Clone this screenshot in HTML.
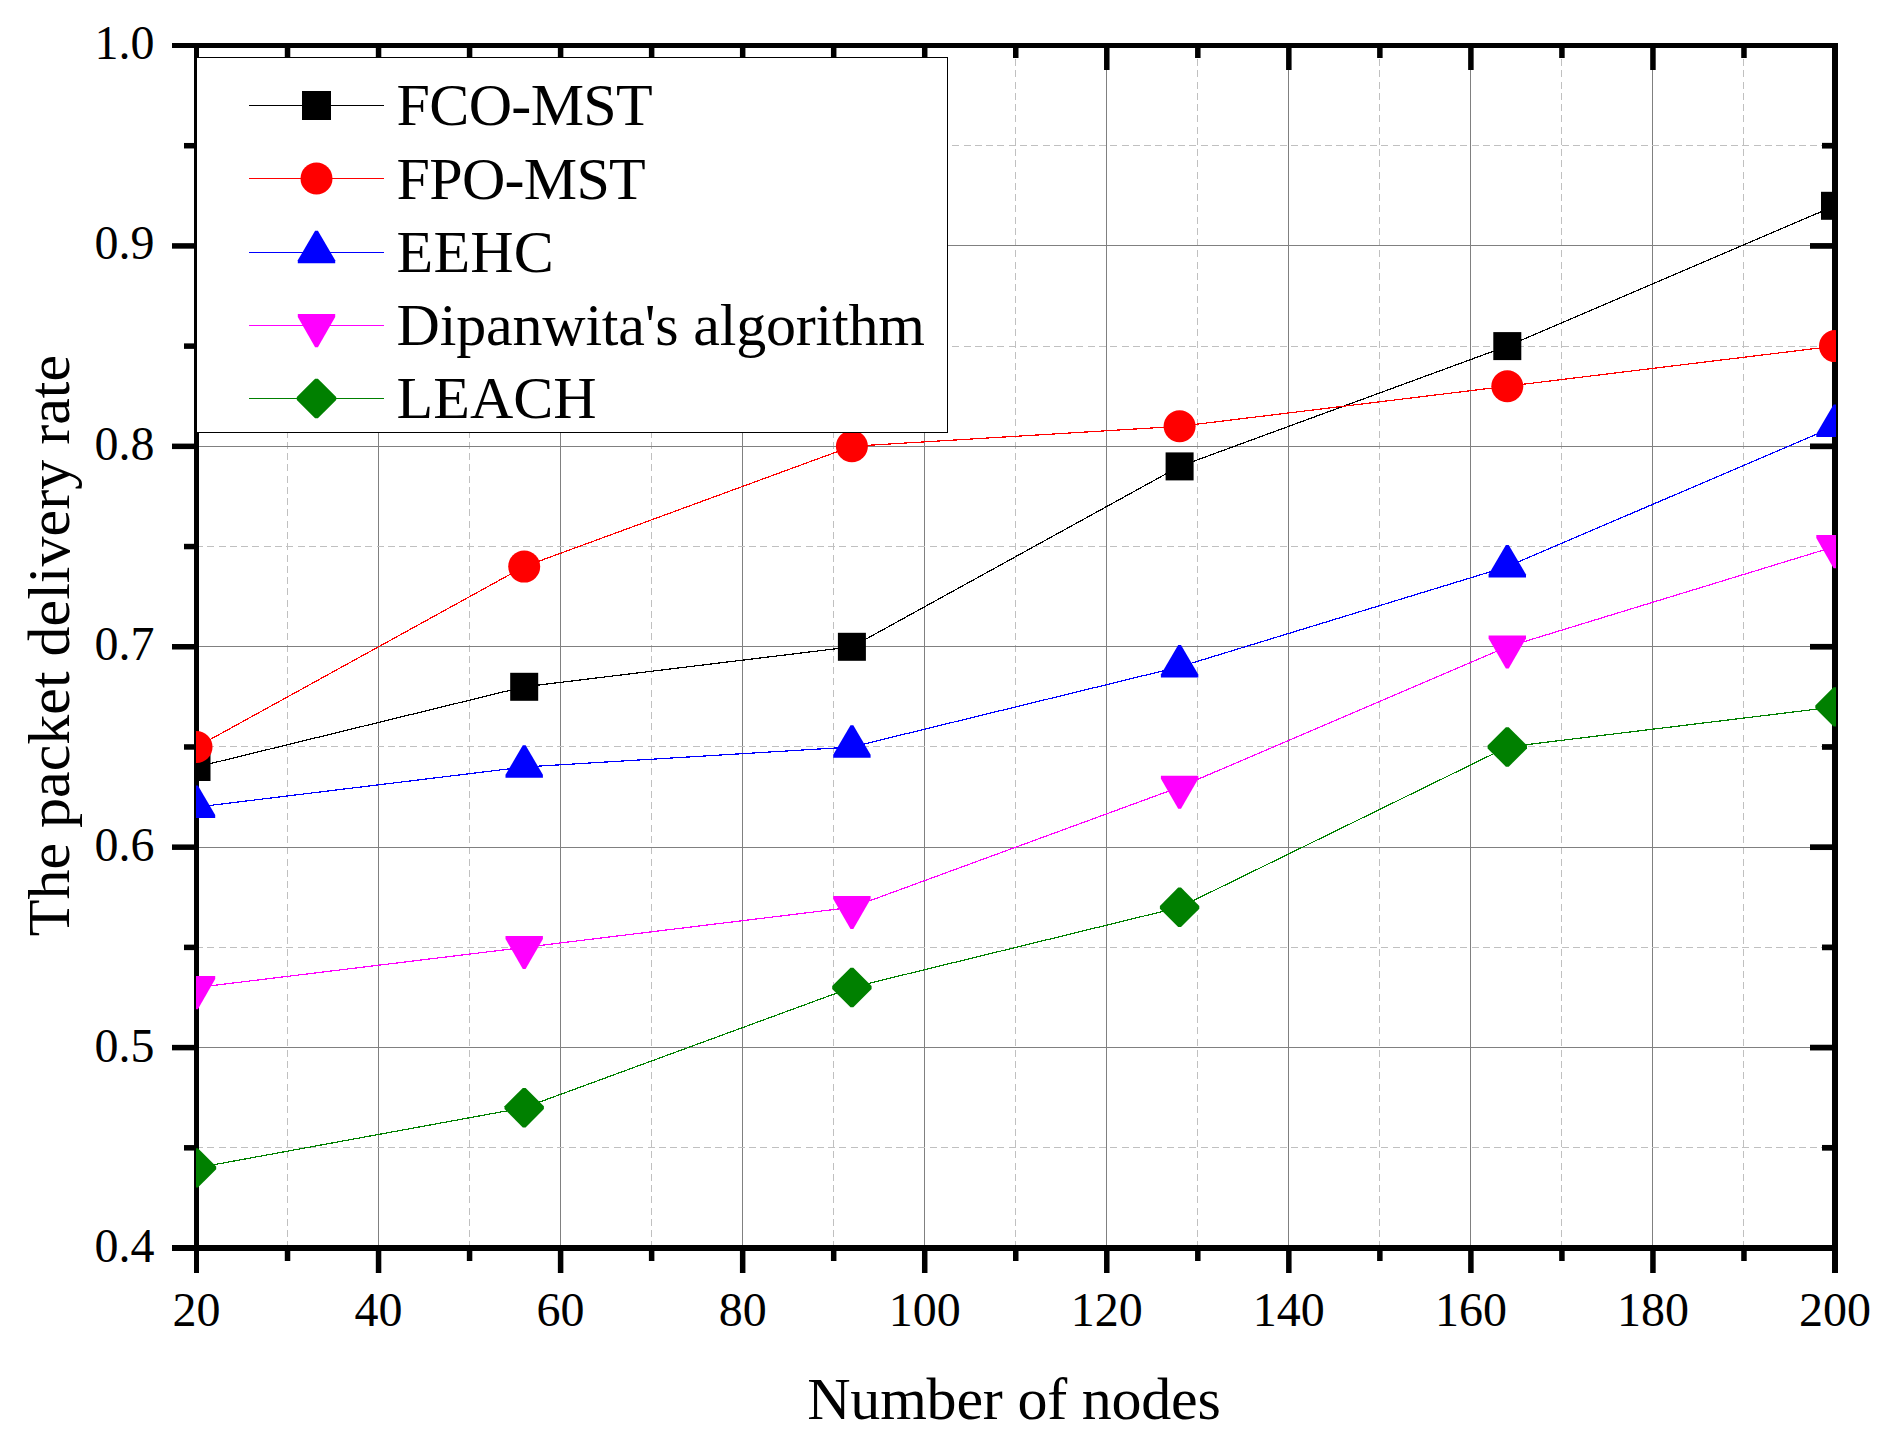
<!DOCTYPE html>
<html lang="en"><head><meta charset="utf-8"><title>The packet delivery rate vs Number of nodes</title>
<style>html,body{margin:0;padding:0;background:#fff}body{width:1892px;height:1446px;overflow:hidden}svg{display:block}text{font-family:"Liberation Serif","Times New Roman",serif;fill:#000}</style></head><body>
<svg width="1892" height="1446" viewBox="0 0 1892 1446">
<rect width="1892" height="1446" fill="#fff"/>
<defs><clipPath id="c"><rect x="196" y="45" width="1640" height="1204"/></clipPath></defs>
<g shape-rendering="crispEdges" fill="none" stroke-width="1">
<line x1="196.5" y1="45.5" x2="196.5" y2="1248.5" stroke="#808080"/>
<line x1="287.5" y1="47.8" x2="287.5" y2="1248.5" stroke="#c0c0c0" stroke-dasharray="7 4.26"/>
<line x1="378.5" y1="45.5" x2="378.5" y2="1248.5" stroke="#808080"/>
<line x1="469.5" y1="47.8" x2="469.5" y2="1248.5" stroke="#c0c0c0" stroke-dasharray="7 4.26"/>
<line x1="560.5" y1="45.5" x2="560.5" y2="1248.5" stroke="#808080"/>
<line x1="651.5" y1="47.8" x2="651.5" y2="1248.5" stroke="#c0c0c0" stroke-dasharray="7 4.26"/>
<line x1="742.5" y1="45.5" x2="742.5" y2="1248.5" stroke="#808080"/>
<line x1="833.5" y1="47.8" x2="833.5" y2="1248.5" stroke="#c0c0c0" stroke-dasharray="7 4.26"/>
<line x1="924.5" y1="45.5" x2="924.5" y2="1248.5" stroke="#808080"/>
<line x1="1015.5" y1="47.8" x2="1015.5" y2="1248.5" stroke="#c0c0c0" stroke-dasharray="7 4.26"/>
<line x1="1106.5" y1="45.5" x2="1106.5" y2="1248.5" stroke="#808080"/>
<line x1="1197.5" y1="47.8" x2="1197.5" y2="1248.5" stroke="#c0c0c0" stroke-dasharray="7 4.26"/>
<line x1="1288.5" y1="45.5" x2="1288.5" y2="1248.5" stroke="#808080"/>
<line x1="1379.5" y1="47.8" x2="1379.5" y2="1248.5" stroke="#c0c0c0" stroke-dasharray="7 4.26"/>
<line x1="1470.5" y1="45.5" x2="1470.5" y2="1248.5" stroke="#808080"/>
<line x1="1561.5" y1="47.8" x2="1561.5" y2="1248.5" stroke="#c0c0c0" stroke-dasharray="7 4.26"/>
<line x1="1652.5" y1="45.5" x2="1652.5" y2="1248.5" stroke="#808080"/>
<line x1="1743.5" y1="47.8" x2="1743.5" y2="1248.5" stroke="#c0c0c0" stroke-dasharray="7 4.26"/>
<line x1="1835.5" y1="45.5" x2="1835.5" y2="1248.5" stroke="#808080"/>
<line x1="196.5" y1="1248.5" x2="1835.0" y2="1248.5" stroke="#808080"/>
<line x1="196" y1="1147.5" x2="1835.0" y2="1147.5" stroke="#c0c0c0" stroke-dasharray="7 4.288"/>
<line x1="196.5" y1="1047.5" x2="1835.0" y2="1047.5" stroke="#808080"/>
<line x1="196" y1="947.5" x2="1835.0" y2="947.5" stroke="#c0c0c0" stroke-dasharray="7 4.288"/>
<line x1="196.5" y1="847.5" x2="1835.0" y2="847.5" stroke="#808080"/>
<line x1="196" y1="746.5" x2="1835.0" y2="746.5" stroke="#c0c0c0" stroke-dasharray="7 4.288"/>
<line x1="196.5" y1="646.5" x2="1835.0" y2="646.5" stroke="#808080"/>
<line x1="196" y1="546.5" x2="1835.0" y2="546.5" stroke="#c0c0c0" stroke-dasharray="7 4.288"/>
<line x1="196.5" y1="446.5" x2="1835.0" y2="446.5" stroke="#808080"/>
<line x1="196" y1="346.5" x2="1835.0" y2="346.5" stroke="#c0c0c0" stroke-dasharray="7 4.288"/>
<line x1="196.5" y1="245.5" x2="1835.0" y2="245.5" stroke="#808080"/>
<line x1="196" y1="145.5" x2="1835.0" y2="145.5" stroke="#c0c0c0" stroke-dasharray="7 4.288"/>
<line x1="196.5" y1="45.5" x2="1835.0" y2="45.5" stroke="#808080"/>
</g>
<g fill="#000" shape-rendering="crispEdges">
<rect x="194" y="43" width="5" height="1230"/>
<rect x="172" y="43" width="1666" height="5"/>
<rect x="1832" y="43" width="6" height="1230"/>
<rect x="172" y="1245" width="1666" height="6"/>
</g><g fill="#000">
<rect x="284.78" y="1251" width="5.5" height="10"/>
<rect x="284.78" y="48" width="5.5" height="10"/>
<rect x="375.81" y="1251" width="5.5" height="22"/>
<rect x="375.81" y="48" width="5.5" height="22"/>
<rect x="466.83" y="1251" width="5.5" height="10"/>
<rect x="466.83" y="48" width="5.5" height="10"/>
<rect x="557.86" y="1251" width="5.5" height="22"/>
<rect x="557.86" y="48" width="5.5" height="22"/>
<rect x="648.89" y="1251" width="5.5" height="10"/>
<rect x="648.89" y="48" width="5.5" height="10"/>
<rect x="739.92" y="1251" width="5.5" height="22"/>
<rect x="739.92" y="48" width="5.5" height="22"/>
<rect x="830.94" y="1251" width="5.5" height="10"/>
<rect x="830.94" y="48" width="5.5" height="10"/>
<rect x="921.97" y="1251" width="5.5" height="22"/>
<rect x="921.97" y="48" width="5.5" height="22"/>
<rect x="1013.00" y="1251" width="5.5" height="10"/>
<rect x="1013.00" y="48" width="5.5" height="10"/>
<rect x="1104.03" y="1251" width="5.5" height="22"/>
<rect x="1104.03" y="48" width="5.5" height="22"/>
<rect x="1195.06" y="1251" width="5.5" height="10"/>
<rect x="1195.06" y="48" width="5.5" height="10"/>
<rect x="1286.08" y="1251" width="5.5" height="22"/>
<rect x="1286.08" y="48" width="5.5" height="22"/>
<rect x="1377.11" y="1251" width="5.5" height="10"/>
<rect x="1377.11" y="48" width="5.5" height="10"/>
<rect x="1468.14" y="1251" width="5.5" height="22"/>
<rect x="1468.14" y="48" width="5.5" height="22"/>
<rect x="1559.17" y="1251" width="5.5" height="10"/>
<rect x="1559.17" y="48" width="5.5" height="10"/>
<rect x="1650.19" y="1251" width="5.5" height="22"/>
<rect x="1650.19" y="48" width="5.5" height="22"/>
<rect x="1741.22" y="1251" width="5.5" height="10"/>
<rect x="1741.22" y="48" width="5.5" height="10"/>
<rect x="184" y="1145.06" width="10" height="5.5"/>
<rect x="1822" y="1144.96" width="10" height="5.7"/>
<rect x="172" y="1044.85" width="22" height="5.5"/>
<rect x="1810" y="1044.75" width="22" height="5.7"/>
<rect x="184" y="944.64" width="10" height="5.5"/>
<rect x="1822" y="944.54" width="10" height="5.7"/>
<rect x="172" y="844.43" width="22" height="5.5"/>
<rect x="1810" y="844.33" width="22" height="5.7"/>
<rect x="184" y="744.22" width="10" height="5.5"/>
<rect x="1822" y="744.12" width="10" height="5.7"/>
<rect x="172" y="644.01" width="22" height="5.5"/>
<rect x="1810" y="643.91" width="22" height="5.7"/>
<rect x="184" y="543.80" width="10" height="5.5"/>
<rect x="1825" y="543.70" width="7" height="5.7"/>
<rect x="172" y="443.59" width="22" height="5.5"/>
<rect x="1810" y="443.49" width="22" height="5.7"/>
<rect x="184" y="343.38" width="10" height="5.5"/>
<rect x="1822" y="343.28" width="10" height="5.7"/>
<rect x="172" y="243.17" width="22" height="5.5"/>
<rect x="1810" y="243.07" width="22" height="5.7"/>
<rect x="184" y="142.96" width="10" height="5.5"/>
<rect x="1822" y="142.86" width="10" height="5.7"/>
</g>
<g clip-path="url(#c)">
<polyline points="196.5,767.0 524.2,686.8 851.9,646.8 1179.6,466.4 1507.3,346.1 1835.0,205.8" fill="none" stroke="#000000" stroke-width="1.2" shape-rendering="crispEdges"/>
<rect x="182.5" y="753.0" width="28.0" height="28.0" fill="#000000"/>
<rect x="510.2" y="672.8" width="28.0" height="28.0" fill="#000000"/>
<rect x="837.9" y="632.8" width="28.0" height="28.0" fill="#000000"/>
<rect x="1165.6" y="452.4" width="28.0" height="28.0" fill="#000000"/>
<rect x="1493.3" y="332.1" width="28.0" height="28.0" fill="#000000"/>
<rect x="1821.0" y="191.8" width="28.0" height="28.0" fill="#000000"/>
<polyline points="196.5,747.0 524.2,566.6 851.9,446.3 1179.6,426.3 1507.3,386.2 1835.0,346.1" fill="none" stroke="#ff0000" stroke-width="1.2" shape-rendering="crispEdges"/>
<circle cx="196.5" cy="747.0" r="16" fill="#ff0000"/>
<circle cx="524.2" cy="566.6" r="16" fill="#ff0000"/>
<circle cx="851.9" cy="446.3" r="16" fill="#ff0000"/>
<circle cx="1179.6" cy="426.3" r="16" fill="#ff0000"/>
<circle cx="1507.3" cy="386.2" r="16" fill="#ff0000"/>
<circle cx="1835.0" cy="346.1" r="16" fill="#ff0000"/>
<polyline points="196.5,807.1 524.2,767.0 851.9,747.0 1179.6,666.8 1507.3,566.6 1835.0,426.3" fill="none" stroke="#0000ff" stroke-width="1.2" shape-rendering="crispEdges"/>
<polygon points="195.1,785.4 197.9,785.4 215.2,814.9 215.2,817.9 177.8,817.9 177.8,814.9" fill="#0000ff"/>
<polygon points="522.8,745.3 525.6,745.3 542.9,774.8 542.9,777.8 505.5,777.8 505.5,774.8" fill="#0000ff"/>
<polygon points="850.5,725.3 853.3,725.3 870.6,754.8 870.6,757.8 833.2,757.8 833.2,754.8" fill="#0000ff"/>
<polygon points="1178.2,645.1 1181.0,645.1 1198.3,674.6 1198.3,677.6 1160.9,677.6 1160.9,674.6" fill="#0000ff"/>
<polygon points="1505.9,544.9 1508.7,544.9 1526.0,574.4 1526.0,577.4 1488.6,577.4 1488.6,574.4" fill="#0000ff"/>
<polygon points="1833.6,404.6 1836.4,404.6 1853.7,434.1 1853.7,437.1 1816.3,437.1 1816.3,434.1" fill="#0000ff"/>
<polyline points="196.5,987.5 524.2,947.4 851.9,907.3 1179.6,787.1 1507.3,646.8 1835.0,546.5" fill="none" stroke="#ff00ff" stroke-width="1.2" shape-rendering="crispEdges"/>
<polygon points="195.1,1009.2 197.9,1009.2 215.2,979.1 215.2,976.1 177.8,976.1 177.8,979.1" fill="#ff00ff"/>
<polygon points="522.8,969.1 525.6,969.1 542.9,939.0 542.9,936.0 505.5,936.0 505.5,939.0" fill="#ff00ff"/>
<polygon points="850.5,929.0 853.3,929.0 870.6,898.9 870.6,895.9 833.2,895.9 833.2,898.9" fill="#ff00ff"/>
<polygon points="1178.2,808.8 1181.0,808.8 1198.3,778.7 1198.3,775.7 1160.9,775.7 1160.9,778.7" fill="#ff00ff"/>
<polygon points="1505.9,668.5 1508.7,668.5 1526.0,638.4 1526.0,635.4 1488.6,635.4 1488.6,638.4" fill="#ff00ff"/>
<polygon points="1833.6,568.2 1836.4,568.2 1853.7,538.1 1853.7,535.1 1816.3,535.1 1816.3,538.1" fill="#ff00ff"/>
<polyline points="196.5,1167.9 524.2,1107.7 851.9,987.5 1179.6,907.3 1507.3,747.0 1835.0,706.9" fill="none" stroke="#008000" stroke-width="1.2" shape-rendering="crispEdges"/>
<polygon points="195.1,1148.2 197.9,1148.2 216.2,1166.5 216.2,1169.3 197.9,1187.6 195.1,1187.6 176.8,1169.3 176.8,1166.5" fill="#008000"/>
<polygon points="522.8,1088.0 525.6,1088.0 543.9,1106.3 543.9,1109.1 525.6,1127.4 522.8,1127.4 504.5,1109.1 504.5,1106.3" fill="#008000"/>
<polygon points="850.5,967.8 853.3,967.8 871.6,986.1 871.6,988.9 853.3,1007.2 850.5,1007.2 832.2,988.9 832.2,986.1" fill="#008000"/>
<polygon points="1178.2,887.6 1181.0,887.6 1199.3,905.9 1199.3,908.7 1181.0,927.0 1178.2,927.0 1159.9,908.7 1159.9,905.9" fill="#008000"/>
<polygon points="1505.9,727.3 1508.7,727.3 1527.0,745.6 1527.0,748.4 1508.7,766.7 1505.9,766.7 1487.6,748.4 1487.6,745.6" fill="#008000"/>
<polygon points="1833.6,687.2 1836.4,687.2 1854.7,705.5 1854.7,708.3 1836.4,726.6 1833.6,726.6 1815.3,708.3 1815.3,705.5" fill="#008000"/>
</g>
<rect x="196.5" y="57.5" width="751" height="375" fill="#fff" stroke="#000" stroke-width="1" shape-rendering="crispEdges"/>
<line x1="249" y1="105.5" x2="384" y2="105.5" stroke="#000000" stroke-width="1" shape-rendering="crispEdges"/>
<rect x="302.0" y="91.0" width="29.0" height="29.0" fill="#000000"/>
<text x="396.6" y="125.3" font-size="60" textLength="256.1" lengthAdjust="spacing">FCO-MST</text>
<line x1="249" y1="178.5" x2="384" y2="178.5" stroke="#ff0000" stroke-width="1" shape-rendering="crispEdges"/>
<circle cx="316.5" cy="178.5" r="16" fill="#ff0000"/>
<text x="396.6" y="199.1" font-size="60" textLength="249.1" lengthAdjust="spacing">FPO-MST</text>
<line x1="249" y1="252.5" x2="384" y2="252.5" stroke="#0000ff" stroke-width="1" shape-rendering="crispEdges"/>
<polygon points="315.1,230.8 317.9,230.8 335.2,260.3 335.2,263.3 297.8,263.3 297.8,260.3" fill="#0000ff"/>
<text x="396.6" y="271.7" font-size="60" textLength="157.2" lengthAdjust="spacing">EEHC</text>
<line x1="249" y1="325.5" x2="384" y2="325.5" stroke="#ff00ff" stroke-width="1" shape-rendering="crispEdges"/>
<polygon points="315.1,347.2 317.9,347.2 335.2,317.1 335.2,314.1 297.8,314.1 297.8,317.1" fill="#ff00ff"/>
<text x="396.6" y="345.1" font-size="60" textLength="528.4" lengthAdjust="spacing">Dipanwita's algorithm</text>
<line x1="249" y1="398.5" x2="384" y2="398.5" stroke="#008000" stroke-width="1" shape-rendering="crispEdges"/>
<polygon points="315.1,378.8 317.9,378.8 336.2,397.1 336.2,399.9 317.9,418.2 315.1,418.2 296.8,399.9 296.8,397.1" fill="#008000"/>
<text x="396.6" y="418.0" font-size="60" textLength="200.0" lengthAdjust="spacing">LEACH</text>
<text x="196.5" y="1326.1" font-size="48" text-anchor="middle">20</text>
<text x="378.6" y="1326.1" font-size="48" text-anchor="middle">40</text>
<text x="560.6" y="1326.1" font-size="48" text-anchor="middle">60</text>
<text x="742.7" y="1326.1" font-size="48" text-anchor="middle">80</text>
<text x="924.7" y="1326.1" font-size="48" text-anchor="middle">100</text>
<text x="1106.8" y="1326.1" font-size="48" text-anchor="middle">120</text>
<text x="1288.8" y="1326.1" font-size="48" text-anchor="middle">140</text>
<text x="1470.9" y="1326.1" font-size="48" text-anchor="middle">160</text>
<text x="1652.9" y="1326.1" font-size="48" text-anchor="middle">180</text>
<text x="1835.0" y="1326.1" font-size="48" text-anchor="middle">200</text>
<text x="154.5" y="1262.1" font-size="48" text-anchor="end">0.4</text>
<text x="154.5" y="1061.5" font-size="48" text-anchor="end">0.5</text>
<text x="154.5" y="861.0" font-size="48" text-anchor="end">0.6</text>
<text x="154.5" y="660.4" font-size="48" text-anchor="end">0.7</text>
<text x="154.5" y="459.8" font-size="48" text-anchor="end">0.8</text>
<text x="154.5" y="259.3" font-size="48" text-anchor="end">0.9</text>
<text x="154.5" y="58.7" font-size="48" text-anchor="end">1.0</text>
<text x="807.2" y="1419" font-size="60" textLength="413.7" lengthAdjust="spacing">Number of nodes</text>
<text transform="translate(69.2,645.6) rotate(-90)" font-size="60" text-anchor="middle">The packet delivery rate</text>
</svg></body></html>
